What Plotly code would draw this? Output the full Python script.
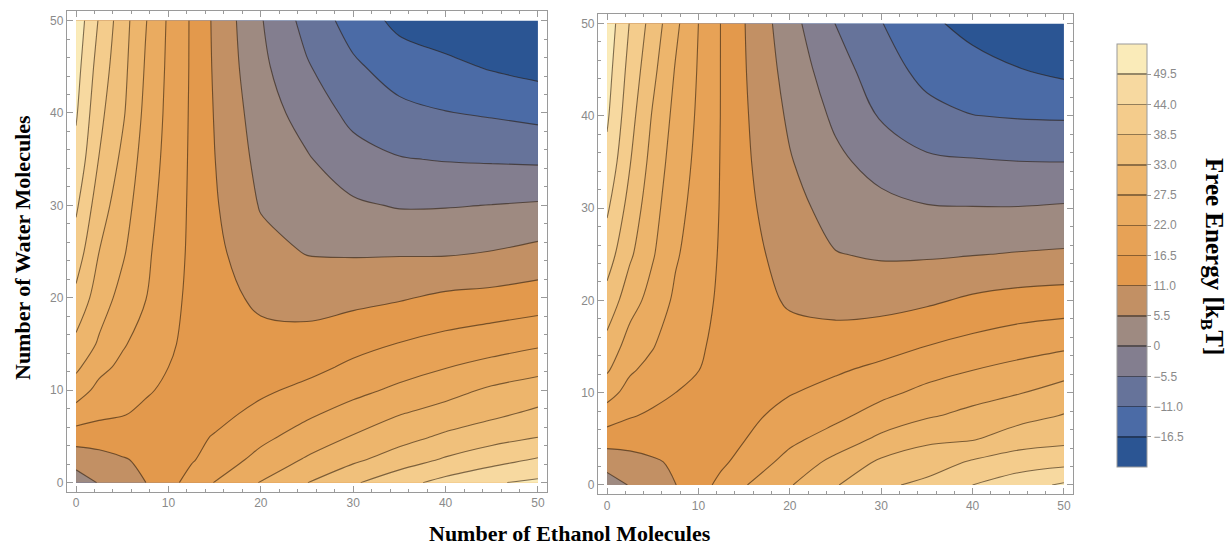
import plotly.graph_objects as go

# ---------------- data ----------------
ethanol = [0, 2.5, 5, 7.5, 10, 12.5, 15, 20, 25, 30, 35, 40, 45, 50]   # x nodes
water = [0, 2.5, 5, 7.5, 10, 12.5, 15, 20, 25, 30, 35, 40, 45, 50]     # y nodes

# rows = water (y), columns = ethanol (x); free energy in kBT
free_energy_left = [
    [3.0, 5.8, 8.2, 10.9, 14.7, 18.5, 22.2, 27.8, 32.9, 37.8, 42.1, 45.8, 49.0, 50.5],
    [7.5, 9.0, 10.6, 11.9, 13.7, 16.0, 18.7, 23.7, 28.1, 31.9, 35.6, 39.1, 41.8, 44.5],
    [13.75, 13.75, 13.8, 13.8, 14.2, 15.3, 16.8, 20.6, 24.3, 27.8, 30.9, 33.9, 36.4, 38.3],
    [19.8, 17.7, 16.9, 15.5, 14.6, 14.5, 14.9, 17.9, 21.0, 24.1, 27.2, 29.5, 31.7, 34.1],
    [24.6, 20.5, 18.8, 17.1, 15.6, 14.3, 14.4, 15.6, 17.8, 20.5, 23.1, 25.6, 28.4, 30.0],
    [28.6, 23.5, 20.8, 18.4, 16.5, 14.6, 13.8, 13.8, 15.0, 17.5, 19.7, 21.8, 23.7, 25.8],
    [31.6, 26.8, 22.6, 19.8, 17.3, 15.0, 13.5, 12.7, 13.0, 14.9, 16.7, 18.3, 19.8, 21.2],
    [37.2, 30.1, 25.8, 22.2, 18.3, 15.3, 13.0, 9.9, 8.9, 9.5, 10.5, 12.0, 12.6, 13.6],
    [41.4, 33.0, 28.3, 23.1, 19.2, 15.5, 12.3, 7.3, 5.2, 4.9, 4.9, 4.8, 5.6, 6.9],
    [44.9, 35.5, 30.1, 24.1, 19.8, 15.6, 11.6, 5.1, 2.8, 0.8, -0.4, -0.3, 0.1, 0.6],
    [47.9, 38.3, 31.9, 25.2, 20.3, 15.7, 11.1, 3.8, 0.5, -3.4, -5.2, -5.8, -6.1, -6.4],
    [50.1, 39.9, 33.9, 26.2, 20.7, 15.8, 10.7, 2.6, -2.2, -7.0, -9.6, -10.8, -11.6, -12.6],
    [51.6, 41.6, 34.8, 27.1, 21.0, 15.9, 10.3, 1.3, -5.0, -10.1, -13.5, -15.2, -17.0, -18.3],
    [53.0, 43.5, 35.5, 27.9, 21.3, 15.9, 10.05, 0.4, -7.4, -13.3, -18.0, -19.8, -20.8, -21.5],
]

free_energy_right = [
    [3.0, 5.8, 8.5, 10.9, 14.4, 17.9, 21.6, 27.1, 32.6, 37.5, 39.8, 44.0, 47.2, 50.3],
    [7.6, 9.0, 10.4, 11.7, 13.8, 15.6, 18.2, 23.9, 29.0, 33.9, 35.9, 39.1, 41.2, 42.2],
    [13.5, 13.2, 13.2, 13.3, 14.1, 15.1, 16.3, 20.7, 24.3, 28.6, 31.9, 32.5, 35.9, 37.0],
    [19.3, 16.9, 15.7, 14.9, 14.5, 14.4, 15.0, 18.4, 20.7, 24.3, 26.9, 29.0, 31.0, 33.3],
    [24.1, 20.0, 18.0, 16.5, 15.4, 14.4, 14.6, 16.2, 18.3, 20.7, 23.4, 25.5, 27.2, 29.6],
    [28.2, 22.8, 20.2, 17.6, 16.6, 14.7, 14.0, 14.6, 15.8, 17.7, 20.0, 21.9, 23.6, 25.5],
    [31.1, 25.1, 22.3, 18.7, 17.2, 15.1, 13.7, 13.0, 13.4, 14.6, 16.6, 18.3, 19.9, 21.2],
    [36.6, 29.8, 25.4, 21.0, 18.3, 15.6, 13.3, 10.4, 9.2, 9.1, 10.1, 11.9, 13.0, 13.5],
    [41.1, 33.9, 28.0, 22.6, 19.3, 15.9, 12.9, 8.9, 5.7, 4.9, 4.9, 5.3, 5.8, 6.2],
    [44.8, 36.4, 29.5, 23.7, 20.1, 16.1, 12.4, 7.4, 3.4, 1.6, 0.4, 0.2, 0.2, 0.6],
    [48.0, 38.8, 31.0, 24.8, 20.7, 16.2, 12.0, 5.9, 1.2, -2.1, -4.5, -5.0, -5.4, -5.5],
    [50.3, 40.5, 32.5, 25.9, 21.2, 16.3, 11.7, 4.6, -1.0, -6.0, -9.2, -10.9, -11.4, -11.6],
    [51.7, 42.1, 34.4, 27.1, 21.6, 16.3, 11.4, 3.3, -3.2, -8.5, -12.8, -14.6, -16.3, -17.8],
    [53.0, 43.7, 36.2, 28.7, 22.0, 16.3, 11.2, 2.0, -5.6, -10.8, -15.4, -18.2, -20.0, -21.0],
]

levels = [-16.5, -11, -5.5, 0, 5.5, 11, 16.5, 22, 27.5, 33, 38.5, 44, 49.5]
level_labels = ["\u221216.5", "\u221211.0", "\u22125.5", "0", "5.5", "11.0", "16.5",
                "22.0", "27.5", "33.0", "38.5", "44.0", "49.5"]
axis_ticks = [0, 10, 20, 30, 40, 50]

# ---------------- style ----------------
band_colors = [
    "#2b5593", "#4b6ba6", "#66739a", "#837e8f", "#9e8a81", "#c29064", "#e3994c",
    "#e7a256", "#eaab60", "#edb56c", "#f0c07b", "#f4cc8c", "#f7d9a0", "#faebb9",
]
line_rgba = "rgba(40,24,8,0.58)"
gray = "#9a9a9a"
label_gray = "#8a8a8a"
serif = "Liberation Serif"
sans = "Liberation Sans"

step = levels[1] - levels[0]
cmin = levels[0] - step
cmax = levels[-1] + step
nb = len(band_colors)

contour_scale = [[k / (nb - 1), c] for k, c in enumerate(band_colors)]


def _rgb(h):
    h = h.lstrip("#")
    return [int(h[i:i + 2], 16) for i in (0, 2, 4)]


def _dark(c1, c2, f=0.6):
    a, b = _rgb(c1), _rgb(c2)
    return "rgb(%d,%d,%d)" % tuple(int((x + y) / 2 * f) for x, y in zip(a, b))


eps = 0.0018
cb_scale = []
for i, c in enumerate(band_colors):
    lo, hi = i / nb, (i + 1) / nb
    cb_scale.append([0.0 if i == 0 else lo + eps, c])
    cb_scale.append([1.0 if i == nb - 1 else hi - eps, c])
    if i < nb - 1:
        d = _dark(c, band_colors[i + 1])
        cb_scale.append([hi - eps, d])
        cb_scale.append([hi + eps, d])

fig = go.Figure()

for z, xa, ya in [(free_energy_left, "x", "y"), (free_energy_right, "x2", "y2")]:
    fig.add_trace(go.Contour(
        x=ethanol, y=water, z=z,
        colorscale=contour_scale, showscale=False,
        autocontour=False,
        contours=dict(start=levels[0], end=levels[-1], size=step,
                      coloring="fill", showlines=True),
        line=dict(color=line_rgba, width=1.1, smoothing=1.0),
        hoverinfo="skip", xaxis=xa, yaxis=ya,
    ))

# colour bar (shared)
fig.add_trace(go.Scatter(
    x=[None], y=[None], mode="markers", showlegend=False, hoverinfo="skip",
    marker=dict(color=[0], colorscale=cb_scale, cmin=cmin, cmax=cmax, showscale=True,
                colorbar=dict(
                    thickness=30, thicknessmode="pixels",
                    len=423 / 547, lenmode="fraction",
                    x=1116.7 / 1230, xanchor="left", xpad=0,
                    y=1 - 44 / 547, yanchor="top", ypad=0,
                    outlinecolor=gray, outlinewidth=1,
                    tickmode="array", tickvals=levels, ticktext=level_labels,
                    ticks="outside", ticklen=4, tickcolor=gray,
                    tickfont=dict(family=sans, size=12, color=label_gray),
                )),
))

axis_common = dict(
    range=[-1, 51], showgrid=False, zeroline=False,
    showline=True, linecolor=gray, linewidth=1, mirror="ticks",
    ticks="inside", ticklen=6, tickwidth=1, tickcolor=gray,
    tickmode="array", tickvals=axis_ticks,
    tickfont=dict(family=sans, size=12, color=label_gray),
    minor=dict(ticks="inside", ticklen=3, tickcolor=gray, tick0=0, dtick=2, showgrid=False),
    fixedrange=True,
)

fig.update_layout(
    width=1230, height=547,
    margin=dict(l=0, r=0, t=0, b=0),
    paper_bgcolor="white", plot_bgcolor="white",
    showlegend=False,
    xaxis=dict(axis_common, domain=[66.8 / 1230, 547.2 / 1230], anchor="y"),
    yaxis=dict(axis_common, domain=[1 - 491.9 / 547, 1 - 11.3 / 547], anchor="x"),
    xaxis2=dict(axis_common, domain=[597.9 / 1230, 1073.1 / 1230], anchor="y2"),
    yaxis2=dict(axis_common, domain=[1 - 494.2 / 547, 1 - 14.3 / 547], anchor="x2"),
    annotations=[
        dict(text="<b>Number of Water Molecules</b>", xref="paper", yref="paper",
             x=22 / 1230, y=1 - 248 / 547, textangle=-90, showarrow=False,
             xanchor="center", yanchor="middle",
             font=dict(family=serif, size=22, color="black")),
        dict(text="<b>Number of Ethanol Molecules</b>", xref="paper", yref="paper",
             x=570 / 1230, y=1 - 533 / 547, showarrow=False,
             xanchor="center", yanchor="middle",
             font=dict(family=serif, size=22, color="black")),
        dict(text="<b>Free Energy [k<sub>B</sub>T]</b>", xref="paper", yref="paper",
             x=1213 / 1230, y=1 - 256 / 547, textangle=90, showarrow=False,
             xanchor="center", yanchor="middle",
             font=dict(family=serif, size=25, color="black")),
    ],
)

fig.write_html("out.html")
